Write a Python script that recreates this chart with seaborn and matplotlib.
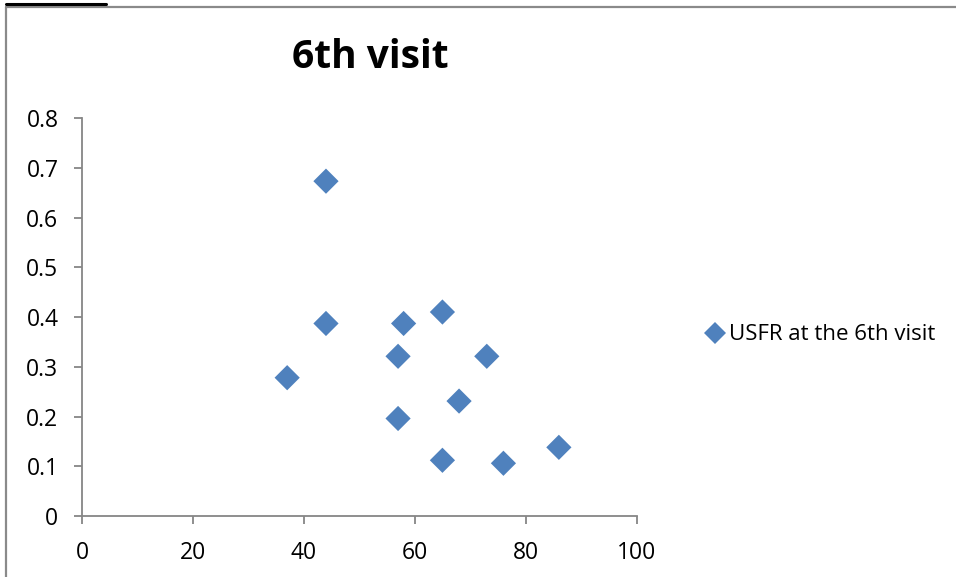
import matplotlib
matplotlib.use("Agg")
import matplotlib.pyplot as plt
import seaborn as sns
import pandas as pd
from matplotlib.lines import Line2D

# Data
age = [44, 44, 37, 57, 58, 57, 65, 65, 68, 73, 76, 86]
usfr = [0.673, 0.387, 0.278, 0.321, 0.387, 0.196, 0.410, 0.112, 0.231, 0.321, 0.106, 0.138]
series_name = "USFR at the 6th visit"
title = "6th visit"
x_ticks = [0, 20, 40, 60, 80, 100]
y_ticks = [0, 0.1, 0.2, 0.3, 0.4, 0.5, 0.6, 0.7, 0.8]

df = pd.DataFrame({"x": age, "y": usfr, "series": series_name})

sns.set_theme(style="white")
plt.rcParams["font.family"] = ["Open Sans", "DejaVu Sans"]

fig = plt.figure(figsize=(9.56, 5.77), dpi=100)
ax = fig.add_axes([82/956, 1-516/577, (636.5-82)/956, (516-118)/577])

color = "#4F81BD"
sns.scatterplot(data=df, x="x", y="y", ax=ax, marker="D", s=165, color=color,
                edgecolor="none", legend=False)

ax.set_xlim(0, 100)
ax.set_ylim(0, 0.8)
ax.set_xticks(x_ticks)
ax.set_yticks(y_ticks)
ax.set_xticklabels([str(t) for t in x_ticks])
ax.set_yticklabels(["0"] + [f"{t:.1f}" for t in y_ticks[1:]])
ax.set_xlabel("")
ax.set_ylabel("")

gray = "#868686"
for side in ["top", "right"]:
    ax.spines[side].set_visible(False)
for side in ["left", "bottom"]:
    ax.spines[side].set_visible(True)
    ax.spines[side].set_color(gray)
    ax.spines[side].set_linewidth(1.3)
ax.tick_params(axis="both", which="major", direction="out", length=6, width=1.3,
               color=gray, labelsize=16.5, labelcolor="black",
               left=True, bottom=True)
ax.tick_params(axis="y", pad=11)
ax.tick_params(axis="x", pad=12)
ax.grid(False)

fig.text(370/956, 1-58/577, title, ha="center", va="center",
         fontsize=28, fontweight="bold", color="black")

handle = Line2D([], [], marker="D", linestyle="none", color=color,
                markersize=11.5, markeredgewidth=0)
leg = fig.legend([handle], [series_name], loc="center left",
                 bbox_to_anchor=(693/956, 1-335/577), frameon=False,
                 fontsize=16, handletextpad=0.1, handlelength=1.0, borderpad=0,
                 labelcolor="black")

# chart frame (gray) and top-left artifact line
fig.add_artist(Line2D([6/956, 6/956], [0, 1-7/577], transform=fig.transFigure,
                      color="#8a8a8a", linewidth=1.6))
fig.add_artist(Line2D([6/956, 1], [1-7/577, 1-7/577], transform=fig.transFigure,
                      color="#8a8a8a", linewidth=1.6))
fig.add_artist(Line2D([6/956, 106/956], [1-4/577, 1-4/577], transform=fig.transFigure,
                      color="black", linewidth=2.2))

fig.savefig("out.png", dpi=100)
